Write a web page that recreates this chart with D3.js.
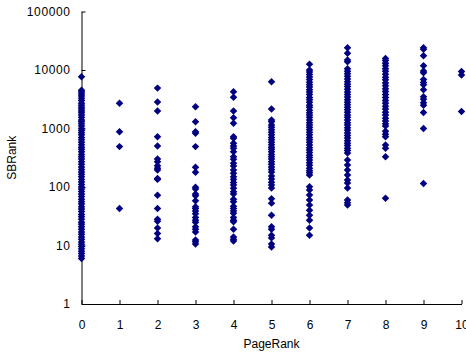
<!DOCTYPE html>
<html>
<head>
<meta charset="utf-8">
<script src="https://cdn.jsdelivr.net/npm/d3@7"></script>
<style>
  body { margin: 0; background: #fff; }
  svg { display: block; font-family: "Liberation Sans", Arial, sans-serif; }
</style>
</head>
<body>
<svg id="chart" width="466" height="353"></svg>
<script>
// PageRank columns and the SBRank values
const pageRanks = [0, 1, 2, 3, 4, 5, 6, 7, 8, 9, 10];

const pr0 = [7700, 4500, 4200, 3900, 3600, 3300, 3000, 2700, 2500, 2300, 2150, 2000, 1850, 1700, 1550,
  1400, 1300, 1200, 1100, 1000, 920, 850, 780, 700, 640, 580, 530, 480, 440, 400, 360, 330, 300, 270,
  245, 220, 200, 180, 165, 150, 135, 122, 110, 100, 92, 84, 76, 69, 62, 56, 51, 46, 42, 38, 34, 31,
  28, 25, 23, 21, 19, 17, 15.5, 14, 12.8, 11.5, 10.5, 9.6, 8.8, 8, 7.3, 6.6, 6];
const pr1 = [2700, 880, 490, 43];
const pr2 = [4900, 2850, 2000, 720, 500, 300, 270, 230, 210, 195, 140, 135, 72, 43, 28, 26, 20, 16, 13];
const pr3 = [2360, 1300, 880, 830, 490, 217, 178, 99, 92, 76, 71, 58, 46, 43, 39, 35, 30, 27, 25, 21,
  19, 17, 12.4, 11.6, 10.6];
const pr4 = [4260, 3420, 1990, 1530, 1230, 724, 680, 558, 502, 459, 401, 330, 298, 254, 229, 195, 172,
  150, 135, 119, 108, 95, 83, 76, 62, 56, 47, 43, 39, 35.5, 30, 27, 25.5, 19, 14, 12.8, 11.9];
const pr5 = [6300, 2150, 1400, 1300, 1150, 1050, 950, 860, 780, 700, 640, 580, 530, 480, 440, 400, 360,
  330, 300, 270, 245, 220, 200, 180, 154, 137, 121, 108, 96, 63, 53, 33, 21, 19, 15, 13.5, 10.6, 9.4];
const pr6 = [12600, 10000, 9200, 8400, 7600, 6900, 6200, 5600, 5100, 4600, 4200, 3800, 3400, 3100, 2800,
  2500, 2300, 2050, 1850, 1700, 1550, 1400, 1250, 1150, 1050, 950, 860, 780, 700, 640, 580, 520, 470,
  430, 390, 350, 320, 290, 260, 235, 210, 190, 175, 160, 101, 89, 73, 60, 49, 40, 33, 27, 20, 15];
const pr7 = [24000, 19300, 14800, 13900, 10500, 9500, 8600, 7800, 7000, 6300, 5700, 5200, 4700, 4200,
  3800, 3450, 3100, 2800, 2550, 2300, 2100, 1900, 1700, 1550, 1400, 1250, 1150, 1030, 930, 840, 760,
  690, 620, 560, 510, 460, 420, 380, 290, 237, 195, 160, 132, 117, 96, 60, 54, 49];
const pr8 = [15800, 14500, 13000, 11800, 10500, 9500, 8500, 7500, 6800, 6000, 5400, 4800, 4300, 3800,
  3400, 3000, 2700, 2400, 2150, 1900, 1700, 1500, 1350, 1200, 1100, 900, 800, 720, 520, 460, 330, 64];
const pr9 = [24000, 22600, 17500, 11800, 9600, 9000, 6900, 6100, 5600, 4600, 3500, 3150, 2750, 2500,
  1880, 1000, 115];
const pr10 = [9400, 8200, 1950];

const sbRanks = [pr0, pr1, pr2, pr3, pr4, pr5, pr6, pr7, pr8, pr9, pr10];

const yTicks = [1, 10, 100, 1000, 10000, 100000];

const width = 466, height = 353;
const margin = { top: 11.5, right: 4.5, bottom: 49, left: 81.5 };

const svg = d3.select("#chart");

const x = d3.scaleLinear()
  .domain([0, 10])
  .range([margin.left, width - margin.right]);

const y = d3.scaleLog()
  .domain([1, 100000])
  .range([height - margin.bottom, margin.top]);

// axes, ticks pointing inward
svg.append("g")
  .attr("transform", `translate(${margin.left},0)`)
  .call(d3.axisLeft(y).tickValues(yTicks).tickFormat(d3.format("d"))
    .tickSize(-4).tickSizeOuter(0).tickPadding(11))
  .call(g => g.selectAll("text").attr("font-size", 12).attr("fill", "#000").attr("letter-spacing", 0.6))
  .call(g => g.selectAll("line, path").attr("stroke", "#000"));

// the "10" label runs off the right edge, as in the original
svg.append("g")
  .attr("transform", `translate(0,${height - margin.bottom})`)
  .call(d3.axisBottom(x).tickValues(pageRanks).tickFormat(d3.format("d"))
    .tickSize(-4).tickSizeOuter(0).tickPadding(16))
  .call(g => g.selectAll("text").attr("font-size", 12).attr("fill", "#000"))
  .call(g => g.selectAll("line, path").attr("stroke", "#000"));

// axis titles
svg.append("text")
  .attr("x", (margin.left + width - margin.right) / 2)
  .attr("y", 348)
  .attr("text-anchor", "middle")
  .attr("font-size", 12)
  .text("PageRank");

svg.append("text")
  .attr("transform", `translate(16,${(margin.top + height - margin.bottom) / 2}) rotate(-90)`)
  .attr("text-anchor", "middle")
  .attr("font-size", 12)
  .text("SBRank");

// points
const points = [];
sbRanks.forEach((vals, i) => vals.forEach(v => points.push({ pr: pageRanks[i], sb: v })));

const diamond = d3.symbol().type(d3.symbolSquare).size(28);

svg.append("g")
  .selectAll("path")
  .data(points)
  .join("path")
  .attr("d", diamond)
  .attr("transform", d => `translate(${x(d.pr)},${y(d.sb)}) rotate(45)`)
  .attr("fill", "#000080");
</script>
</body>
</html>
